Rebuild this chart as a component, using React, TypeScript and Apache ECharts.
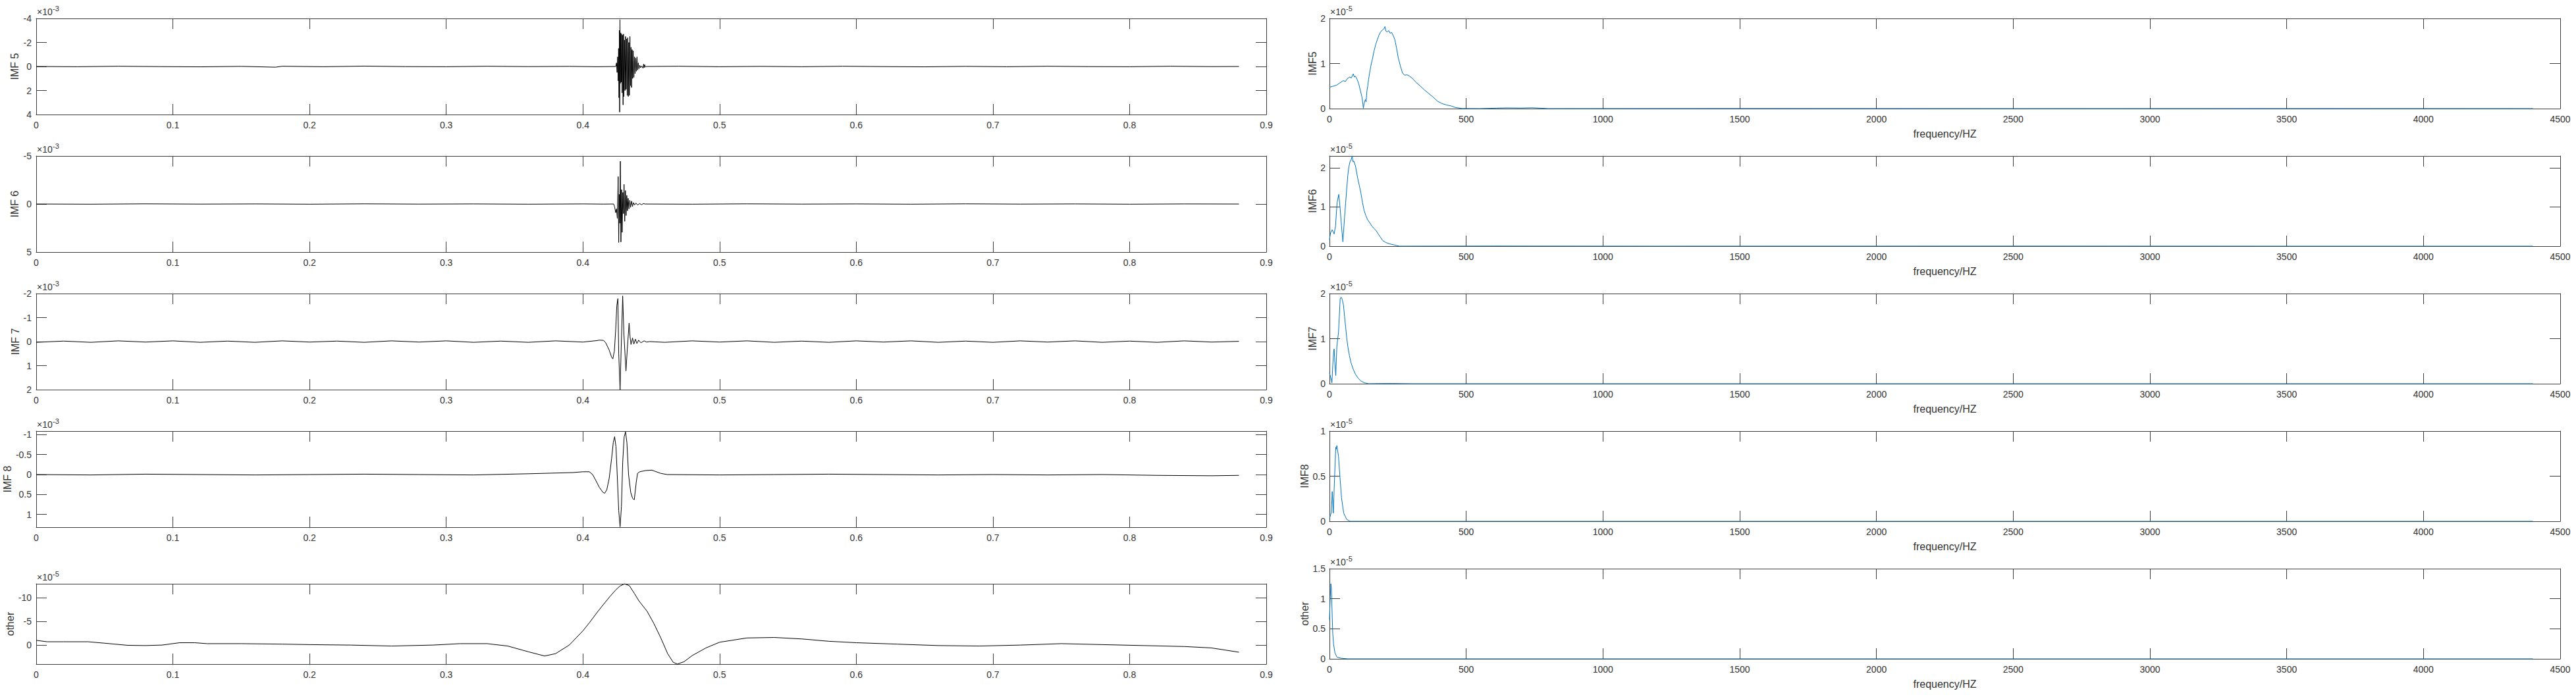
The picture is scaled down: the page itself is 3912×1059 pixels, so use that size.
import React, { useEffect, useRef } from 'react';
import * as echarts from 'echarts';

// ---------------- DATA ----------------
// Time-domain IMFs: [time (s), amplitude in axis units (x10^-3, "other" x10^-5)]
const imf5Time: [number, number][] = [
  [0, 0], [0.03, 0.02], [0.06, -0.02], [0.09, 0.01], [0.12, 0.03], [0.15, -0.01], [0.175, 0.06], [0.18, -0.02],
  [0.21, 0.02], [0.24, -0.03], [0.27, 0.01], [0.3, 0.02], [0.33, -0.02], [0.36, 0.01], [0.39, -0.01], [0.41, 0.02],
  [0.424, 0], [0.4246, -0.3], [0.425, 0.5], [0.4254, -0.8], [0.4258, 1.2], [0.4261, -1.5], [0.4264, 2.6], [0.4267, -3.0],
  [0.4269, 3.8], [0.4271, -3.9], [0.4274, 1.4], [0.4277, -2.8], [0.428, 1.3], [0.4283, -2.7], [0.4287, 2.2], [0.429, -2.6],
  [0.4294, 3.2], [0.4297, -2.7], [0.43, 2.5], [0.4304, -2.2], [0.4308, 2.0], [0.4312, -2.5], [0.4316, 1.9], [0.432, -2.3],
  [0.4324, 2.4], [0.4328, -2.4], [0.4332, 2.5], [0.4336, -2.0], [0.434, 2.4], [0.4344, -2.5], [0.4348, 1.6], [0.4352, -1.6],
  [0.4356, 1.75], [0.436, -1.4], [0.4364, 1.0], [0.4368, -1.3], [0.4373, 0.9], [0.4378, -0.8], [0.4382, 0.6], [0.4387, -0.7],
  [0.4391, 0.4], [0.4396, -0.8], [0.44, 0.3], [0.4405, -0.3], [0.441, 0.2], [0.4416, -0.1], [0.4422, 0.1], [0.443, -0.05],
  [0.444, 0.15], [0.4444, -0.2], [0.4448, 0.1], [0.4452, -0.15], [0.4457, 0.05], [0.4465, 0],
  [0.47, -0.02], [0.5, 0.02], [0.53, -0.01], [0.56, 0.02], [0.59, -0.02], [0.62, 0.01], [0.65, 0.03], [0.68, -0.01],
  [0.71, 0.02], [0.74, -0.02], [0.77, 0.01], [0.8, 0.02], [0.83, -0.02], [0.86, 0.01], [0.88, 0],
];

const imf6Time: [number, number][] = [
  [0, 0], [0.04, 0.02], [0.08, -0.02], [0.12, 0.01], [0.16, -0.01], [0.2, 0.02], [0.24, -0.02], [0.28, 0.01],
  [0.32, -0.01], [0.36, 0.02], [0.4, -0.01], [0.415, 0.01], [0.4225, 0],
  [0.4232, 0.3], [0.424, 0.9], [0.4246, 0.5], [0.4252, 1.5], [0.4258, -2.85], [0.4262, 4.0], [0.4266, -1.0], [0.427, 2.0],
  [0.4274, -4.45], [0.4278, 3.95], [0.4283, -1.5], [0.4287, 2.95], [0.4292, -1.2], [0.4297, 1.0], [0.4301, -2.05], [0.4306, 1.8],
  [0.4311, -1.4], [0.4316, 1.2], [0.4321, -0.9], [0.4326, 0.7], [0.4331, -0.6], [0.4337, 0.5], [0.4343, -0.4], [0.4349, 0.35],
  [0.4356, -0.3], [0.4363, 0.25], [0.437, -0.15], [0.4378, 0.1], [0.4388, -0.1], [0.44, 0.1], [0.4415, -0.05], [0.443, 0.08],
  [0.4442, -0.05], [0.4455, 0],
  [0.48, 0.02], [0.52, -0.02], [0.56, 0.01], [0.6, -0.01], [0.64, 0.02], [0.68, -0.02], [0.72, 0.01], [0.76, -0.01],
  [0.8, 0.02], [0.84, -0.01], [0.88, 0],
];

const imf7Time: [number, number][] = [
  [0, 0.03], [0.02, -0.02], [0.04, 0.03], [0.06, -0.03], [0.08, 0.02], [0.1, -0.03], [0.12, 0.03], [0.14, -0.02],
  [0.16, 0.03], [0.18, -0.03], [0.2, 0.02], [0.22, -0.02], [0.24, 0.03], [0.26, -0.03], [0.28, 0.02], [0.3, -0.03],
  [0.32, 0.03], [0.34, -0.02], [0.36, 0.03], [0.38, -0.03], [0.4, 0.02], [0.41, -0.04], [0.4119, -0.06], [0.4151, -0.05],
  [0.4167, 0.05], [0.4192, 0.35], [0.421, 0.65], [0.4219, 0.72], [0.423, 0.4], [0.424, -0.5], [0.4248, -1.5], [0.4256, -1.79],
  [0.4262, 0.5], [0.4272, 2.0], [0.428, 0.3], [0.4291, -1.9], [0.43, -0.3], [0.4315, 1.22], [0.4325, 0.3], [0.4338, -0.77],
  [0.4345, -0.2], [0.4352, 0.12], [0.4363, -0.15], [0.4373, 0.1], [0.4384, -0.1], [0.4395, 0.08], [0.4408, -0.06], [0.4424, 0.05],
  [0.4448, -0.03], [0.4465, 0.02], [0.4489, 0],
  [0.46, 0.03], [0.48, -0.03], [0.5, 0.02], [0.52, -0.03], [0.54, 0.03], [0.56, -0.02], [0.58, 0.03], [0.6, -0.03],
  [0.62, 0.02], [0.64, -0.03], [0.66, 0.03], [0.68, -0.02], [0.7, 0.03], [0.72, -0.03], [0.74, 0.02], [0.76, -0.03],
  [0.78, 0.03], [0.8, -0.02], [0.82, 0.03], [0.84, -0.03], [0.86, 0.02], [0.88, -0.01],
];

const imf8Time: [number, number][] = [
  [0, 0], [0.04, 0.01], [0.08, -0.01], [0.12, 0], [0.16, 0.01], [0.2, 0], [0.24, -0.01], [0.28, 0], [0.32, 0.01],
  [0.36, -0.02], [0.3927, -0.05], [0.4, -0.07], [0.4047, -0.07], [0.4071, 0.0], [0.4095, 0.15], [0.412, 0.32],
  [0.4145, 0.44], [0.4159, 0.47], [0.4175, 0.38], [0.4192, 0.1], [0.421, -0.4], [0.4222, -0.8], [0.4232, -0.95],
  [0.4242, -0.7], [0.4251, 0.0], [0.4262, 0.9], [0.4272, 1.31], [0.4282, 0.8], [0.4291, -0.3], [0.4302, -0.95],
  [0.4312, -1.07], [0.4322, -0.8], [0.4334, 0.0], [0.435, 0.45], [0.4364, 0.6], [0.4376, 0.63], [0.439, 0.2],
  [0.44, -0.03], [0.4416, -0.07], [0.4457, -0.1], [0.4505, -0.11], [0.4569, -0.03], [0.4617, 0],
  [0.5, 0.01], [0.54, 0], [0.58, -0.01], [0.62, 0], [0.66, 0.01], [0.7, 0], [0.74, 0.01], [0.78, 0],
  [0.82, 0.02], [0.86, 0.03], [0.88, 0.02],
];

const otherTime: [number, number][] = [
  [0, -1.0], [0.008, -0.7], [0.02, -0.7], [0.038, -0.7], [0.05, -0.4], [0.067, 0.05], [0.08, 0.1], [0.092, 0.0],
  [0.105, -0.5], [0.116, -0.5], [0.125, -0.3], [0.15, -0.3], [0.18, -0.2], [0.2, -0.1], [0.23, 0.0], [0.26, 0.2],
  [0.29, 0.0], [0.31, -0.3], [0.33, -0.3], [0.345, 0.2], [0.36, 1.4], [0.372, 2.3], [0.38, 1.8], [0.39, 0.0],
  [0.4, -3.0], [0.405, -4.8], [0.411, -7.1], [0.416, -8.9], [0.42, -10.3], [0.424, -11.6], [0.427, -12.4],
  [0.4305, -12.9], [0.434, -12.5], [0.4376, -10.9], [0.441, -9.3], [0.447, -7.1], [0.452, -4.5], [0.457, -1.5],
  [0.462, 1.8], [0.466, 3.6], [0.469, 4.0], [0.474, 3.5], [0.48, 2.2], [0.49, 0.6], [0.5, -0.6], [0.52, -1.5],
  [0.54, -1.6], [0.56, -1.3], [0.58, -0.8], [0.6, -0.5], [0.63, -0.2], [0.66, 0.1], [0.69, 0.2], [0.72, 0.0],
  [0.75, -0.3], [0.78, -0.1], [0.81, 0.1], [0.84, 0.3], [0.86, 0.6], [0.88, 1.5],
];

// Spectra: [frequency (Hz), magnitude x10^-5]
const imf5Spec: [number, number][] = [
  [0, 0.475], [10, 0.49], [26, 0.52], [38, 0.57], [50, 0.62], [58, 0.6], [66, 0.67], [74, 0.7], [80, 0.68], [87, 0.77],
  [91, 0.7], [95, 0.72], [101, 0.65], [107, 0.55], [113, 0.4], [119, 0.25], [122, 0.1], [124, 0.01], [127, 0.12],
  [131, 0.2], [134, 0.15], [137, 0.4], [140, 0.5], [143, 0.65], [147, 0.8], [151, 0.94], [157, 1.1], [163, 1.28],
  [169, 1.42], [175, 1.53], [181, 1.63], [187, 1.7], [193, 1.74], [199, 1.77], [203, 1.82], [206, 1.72], [211, 1.7],
  [217, 1.73], [222, 1.67], [227, 1.69], [233, 1.62], [239, 1.53], [245, 1.35], [251, 1.14], [259, 0.95], [267, 0.79],
  [275, 0.74], [283, 0.75], [293, 0.72], [303, 0.67], [317, 0.58], [332, 0.5], [348, 0.41], [364, 0.33], [380, 0.25],
  [396, 0.16], [412, 0.11], [428, 0.08], [444, 0.06], [460, 0.025], [484, 0.002], [550, 0], [610, 0.01], [650, 0.015],
  [700, 0.012], [740, 0.018], [775, 0.008], [800, 0], [1500, 0.002], [2500, 0], [3500, 0.001], [4400, 0],
];

const imf6Spec: [number, number][] = [
  [0, 0.17], [4, 0.34], [10, 0.42], [17, 0.31], [22, 0.51], [28, 1.12], [34, 1.32], [39, 0.96], [44, 0.51], [49, 0.11],
  [55, 0.73], [59, 1.1], [63, 1.46], [67, 1.8], [71, 2.03], [75, 2.15], [79, 2.2], [83, 2.3], [86, 2.15], [89, 2.17],
  [95, 2.05], [103, 1.74], [109, 1.55], [115, 1.35], [121, 1.1], [127, 0.9], [133, 0.78], [139, 0.68], [147, 0.6],
  [155, 0.51], [163, 0.45], [171, 0.39], [183, 0.26], [195, 0.14], [207, 0.09], [219, 0.06], [237, 0.03], [255, 0],
  [600, 0.003], [1200, 0], [2500, 0.002], [3500, 0], [4400, 0],
];

const imf7Spec: [number, number][] = [
  [0, 0.24], [4, 0.15], [9, 0.02], [12, 0.4], [15, 0.7], [17, 0.77], [21, 0.33], [23, 0.18], [27, 0.83], [33, 1.14],
  [36, 1.5], [39, 1.88], [42, 1.92], [44, 1.91], [47, 1.86], [51, 1.75], [55, 1.5], [59, 1.26], [63, 1.02], [67, 0.83],
  [73, 0.62], [79, 0.46], [87, 0.32], [95, 0.21], [105, 0.12], [115, 0.06], [128, 0.02], [143, 0], [180, 0.003],
  [230, 0.005], [300, 0], [4400, 0],
];

const imf8Spec: [number, number][] = [
  [0, 0.03], [4, 0.07], [7, 0.1], [10, 0.33], [14, 0.09], [17, 0.35], [20, 0.59], [23, 0.82], [25, 0.8], [27, 0.84],
  [30, 0.78], [33, 0.72], [38, 0.5], [44, 0.26], [52, 0.09], [63, 0.02], [75, 0], [4400, 0],
];

const otherSpec: [number, number][] = [
  [0, 0.65], [2, 0.93], [5, 1.25], [7, 1.18], [10, 0.7], [12, 0.42], [15, 0.24], [20, 0.1], [27, 0.03], [42, 0.01],
  [67, 0], [4400, 0],
];

// axis tick values
const leftNames = ['IMF 5', 'IMF 6', 'IMF 7', 'IMF 8', 'other'];
const rightNames = ['IMF5', 'IMF6', 'IMF7', 'IMF8', 'other'];
const leftTicks = [[-4, -2, 0, 2, 4], [-5, 0, 5], [-2, -1, 0, 1, 2], [-1, -0.5, 0, 0.5, 1], [-10, -5, 0]];
const leftRanges: [number, number][] = [[-4, 4], [-5, 5], [-2, 2], [-1.09, 1.32], [-12.9, 4.0]];
const leftExp = ['-3', '-3', '-3', '-3', '-5'];
const rightTicks = [[0, 1, 2], [0, 1, 2], [0, 1, 2], [0, 0.5, 1], [0, 0.5, 1, 1.5]];
const rightMax = [2, 2.3, 2, 1, 1.5];
const rightExp = ['-5', '-5', '-5', '-5', '-5'];
const leftSeries = [imf5Time, imf6Time, imf7Time, imf8Time, otherTime];
const rightSeries = [imf5Spec, imf6Spec, imf7Spec, imf8Spec, otherSpec];

// ---------------- LAYOUT ----------------
const W = 3912;
const H = 1059;
const LEFT_X = 55;
const LEFT_W = 1868;
const LEFT_TOPS = [28, 237, 446, 655, 887];
const LEFT_HS = [146, 146, 146, 146, 122];
const LEFT_NAME_GAP = [25, 25, 21, 32, 24];
const RIGHT_X = 2019;
const RIGHT_W = 1869;
const RIGHT_TOPS = [28, 237, 446, 655, 864];
const RIGHT_H = 137;
const RIGHT_NAME_GAP = [17, 17, 17, 29, 28];

const FONT = '"Liberation Sans", Arial, Helvetica, sans-serif';
const TXT = '#333333';
const AX = '#3c3c3c';
const TICK_LEN = 16;

const plainNumber = (v: number) => String(Math.round(v * 1e6) / 1e6);

function xAxes(gi: number, min: number, max: number, interval: number, name?: string) {
  const common = {
    type: 'value',
    gridIndex: gi,
    min,
    max,
    interval,
    splitLine: { show: false },
    axisLine: { show: true, onZero: false, lineStyle: { color: AX, width: 1 } },
    axisTick: { show: true, inside: true, length: TICK_LEN, lineStyle: { color: AX, width: 1 } },
  };
  return [
    {
      ...common,
      position: 'bottom',
      axisLabel: { show: true, margin: 9, color: TXT, fontSize: 14, fontFamily: FONT, formatter: plainNumber },
      name: name || '',
      nameLocation: 'middle',
      nameGap: 30,
      nameTextStyle: { color: TXT, fontSize: 16, fontFamily: FONT },
    },
    { ...common, position: 'top', axisLabel: { show: false } },
  ];
}

function yAxes(gi: number, min: number, max: number, ticks: number[], inverse: boolean, name: string, gap: number, margin: number) {
  const common = {
    type: 'value',
    gridIndex: gi,
    min,
    max,
    inverse,
    splitLine: { show: false },
    axisLine: { show: true, onZero: false, lineStyle: { color: AX, width: 1 } },
    axisTick: { show: true, inside: true, length: TICK_LEN, customValues: ticks, lineStyle: { color: AX, width: 1 } },
  };
  return [
    {
      ...common,
      position: 'left',
      axisLabel: { show: true, margin, color: TXT, fontSize: 14, fontFamily: FONT, customValues: ticks, formatter: plainNumber },
      name,
      nameLocation: 'middle',
      nameGap: gap,
      nameTextStyle: { color: TXT, fontSize: 16, fontFamily: FONT },
    },
    { ...common, position: 'right', axisLabel: { show: false } },
  ];
}

function expLabel(x: number, top: number, exp: string) {
  return {
    type: 'group',
    silent: true,
    children: [
      {
        type: 'text',
        x,
        y: top - 3,
        style: {
          text: '\u00d710',
          fill: TXT,
          font: `14px ${FONT}`,
          align: 'left',
          verticalAlign: 'bottom',
          textAlign: 'left',
          textVerticalAlign: 'bottom',
        },
      },
      {
        type: 'text',
        x: x + 24,
        y: top - 10,
        style: {
          text: exp,
          fill: TXT,
          font: `11px ${FONT}`,
          align: 'left',
          verticalAlign: 'bottom',
          textAlign: 'left',
          textVerticalAlign: 'bottom',
        },
      },
    ],
  };
}

function buildOption() {
  const grid: any[] = [];
  const xAxis: any[] = [];
  const yAxis: any[] = [];
  const series: any[] = [];
  const graphic: any[] = [];

  for (let i = 0; i < 5; i++) {
    const gi = grid.length;
    grid.push({ left: LEFT_X, top: LEFT_TOPS[i], width: LEFT_W, height: LEFT_HS[i], show: false });
    xAxis.push(...xAxes(gi, 0, 0.9, 0.1));
    yAxis.push(...yAxes(gi, leftRanges[i][0], leftRanges[i][1], leftTicks[i], true, leftNames[i], LEFT_NAME_GAP[i], 7));
    series.push({
      type: 'line',
      xAxisIndex: 2 * gi,
      yAxisIndex: 2 * gi,
      data: leftSeries[i],
      showSymbol: false,
      symbol: 'none',
      silent: true,
      clip: true,
      lineStyle: { color: '#000000', width: 1 },
    });
    graphic.push(expLabel(LEFT_X + 1, LEFT_TOPS[i], leftExp[i]));
  }

  for (let i = 0; i < 5; i++) {
    const gi = grid.length;
    grid.push({ left: RIGHT_X, top: RIGHT_TOPS[i], width: RIGHT_W, height: RIGHT_H, show: false });
    xAxis.push(...xAxes(gi, 0, 4500, 500, 'frequency/HZ'));
    yAxis.push(...yAxes(gi, 0, rightMax[i], rightTicks[i], false, rightNames[i], RIGHT_NAME_GAP[i], 6));
    series.push({
      type: 'line',
      xAxisIndex: 2 * gi,
      yAxisIndex: 2 * gi,
      data: rightSeries[i],
      showSymbol: false,
      symbol: 'none',
      silent: true,
      clip: true,
      lineStyle: { color: '#0072BD', width: 1 },
    });
    graphic.push(expLabel(RIGHT_X + 1, RIGHT_TOPS[i], rightExp[i]));
  }

  return {
    animation: false,
    backgroundColor: '#ffffff',
    grid,
    xAxis,
    yAxis,
    series,
    graphic,
  };
}

export default function App() {
  const ref = useRef<HTMLDivElement>(null);
  useEffect(() => {
    if (!ref.current) return;
    const chart = echarts.init(ref.current, null, { renderer: 'svg' });
    chart.setOption(buildOption() as any);
    return () => chart.dispose();
  }, []);
  return (
    <div
      ref={ref}
      style={{ position: 'fixed', left: 0, top: 0, width: W, height: H, background: '#ffffff' }}
    />
  );
}
